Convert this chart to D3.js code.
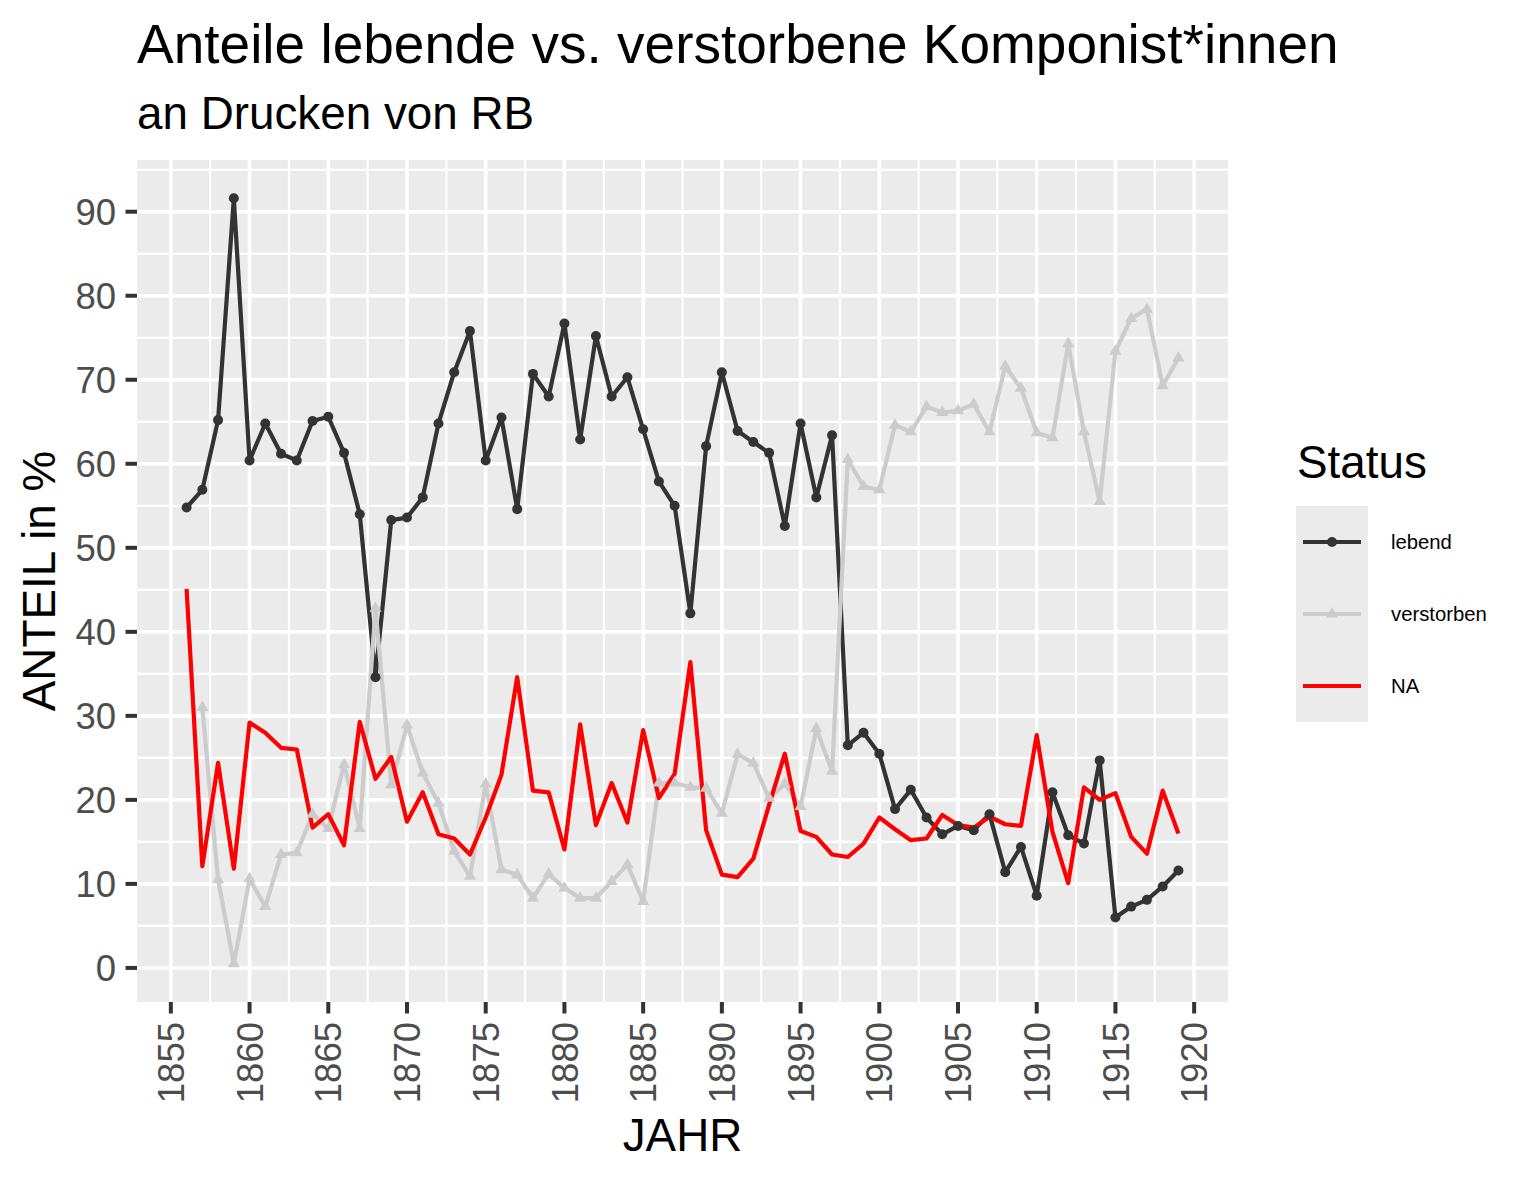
<!DOCTYPE html>
<html>
<head>
<meta charset="utf-8">
<script src="https://cdn.jsdelivr.net/npm/d3@7"></script>
<style>
  html, body { margin: 0; padding: 0; background: #ffffff; }
  svg { display: block; font-family: "Liberation Sans", Arial, Helvetica, sans-serif; }
</style>
</head>
<body>
<svg id="chart" width="1535" height="1181"></svg>
<script>
// ---- data ----
const years = [1856,1857,1858,1859,1860,1861,1862,1863,1864,1865,1866,1867,1868,1869,1870,1871,1872,1873,1874,1875,1876,1877,1878,1879,1880,1881,1882,1883,1884,1885,1886,1887,1888,1889,1890,1891,1892,1893,1894,1895,1896,1897,1898,1899,1900,1901,1902,1903,1904,1905,1906,1907,1908,1909,1910,1911,1912,1913,1914,1915,1916,1917,1918,1919];

const lebend = [54.8,56.9,65.2,91.6,60.4,64.8,61.2,60.4,65.1,65.6,61.3,54.0,34.6,53.3,53.6,56.0,64.8,70.9,75.8,60.4,65.5,54.6,70.7,68.0,76.7,62.9,75.2,68.0,70.3,64.1,57.9,55.0,42.2,62.1,70.9,63.9,62.6,61.3,52.6,64.8,56.0,63.4,26.5,28.0,25.5,18.9,21.2,17.9,15.9,16.9,16.4,18.3,11.4,14.4,8.6,20.9,15.8,14.8,24.7,6.0,7.3,8.1,9.7,11.6];

const verstorben = [null,31.0,10.5,0.5,10.6,7.3,13.5,13.7,18.3,16.6,24.2,16.6,42.8,21.8,28.9,23.2,19.6,13.9,10.9,21.9,11.7,11.1,8.3,11.2,9.5,8.3,8.3,10.3,12.3,7.9,22.0,22.0,21.5,21.4,18.4,25.4,24.4,20.2,21.9,19.2,28.5,23.4,60.5,57.3,56.9,64.6,63.8,66.8,66.1,66.3,67.1,63.8,71.6,69.0,63.7,63.1,74.3,63.8,55.5,73.4,77.3,78.4,69.3,72.6];

const naValues = [45.1,12.1,24.4,11.8,29.2,28.0,26.2,26.0,16.7,18.3,14.6,29.3,22.5,25.1,17.4,20.9,15.9,15.4,13.5,17.9,23.0,34.6,21.1,20.9,14.1,29.0,17.0,22.0,17.3,28.3,20.2,23.1,36.4,16.4,11.1,10.8,13.0,19.4,25.5,16.3,15.6,13.5,13.2,14.8,17.9,16.5,15.2,15.4,18.2,17.0,16.7,18.0,17.1,16.9,27.7,16.2,10.1,21.5,20.0,20.8,15.6,13.6,21.1,16.0];

const statusNames = ["lebend", "verstorben", "NA"];
const xTicks = [1855,1860,1865,1870,1875,1880,1885,1890,1895,1900,1905,1910,1915,1920];
const yTicks = [0,10,20,30,40,50,60,70,80,90];

const titleText = "Anteile lebende vs. verstorbene Komponist*innen";
const subtitleText = "an Drucken von RB";
const xTitle = "JAHR";
const yTitle = "ANTEIL in %";
const legendTitle = "Status";

// ---- layout ----
const P = { left: 137, right: 1228, top: 160, bottom: 1002 };
const colors = { lebend: "#333333", verstorben: "#cccccc", NA: "#ff0000" };

const svg = d3.select("#chart");
svg.append("rect").attr("width", 1535).attr("height", 1181).attr("fill", "#ffffff");

// scales with ggplot-like 5% expansion
const xExt = d3.extent(years);
const xPad = (xExt[1] - xExt[0]) * 0.05;
const x = d3.scaleLinear().domain([xExt[0] - xPad, xExt[1] + xPad]).range([P.left, P.right]);

const allVals = lebend.concat(verstorben, naValues).filter(v => v != null);
const yExt = d3.extent(allVals);
const yPad = (yExt[1] - yExt[0]) * 0.05;
const y = d3.scaleLinear().domain([yExt[0] - yPad, yExt[1] + yPad]).range([P.bottom, P.top]);

// panel
svg.append("rect")
  .attr("x", P.left).attr("y", P.top)
  .attr("width", P.right - P.left).attr("height", P.bottom - P.top)
  .attr("fill", "#ebebeb");

const grid = svg.append("g");
// minor grid
const xMinor = d3.range(xTicks.length - 1).map(i => (xTicks[i] + xTicks[i + 1]) / 2)
  .filter(v => v >= x.domain()[0] && v <= x.domain()[1]);
const yMinorAll = yTicks.map(v => v + 5).concat([yTicks[0] - 5]);
const yMinor = yMinorAll.filter(v => v >= y.domain()[0] && v <= y.domain()[1]);

grid.selectAll(".xminor").data(xMinor).enter().append("line")
  .attr("x1", d => x(d)).attr("x2", d => x(d))
  .attr("y1", P.top).attr("y2", P.bottom)
  .attr("stroke", "#ffffff").attr("stroke-width", 2.1);
grid.selectAll(".yminor").data(yMinor).enter().append("line")
  .attr("y1", d => y(d)).attr("y2", d => y(d))
  .attr("x1", P.left).attr("x2", P.right)
  .attr("stroke", "#ffffff").attr("stroke-width", 2.1);
grid.selectAll(".xmajor").data(xTicks).enter().append("line")
  .attr("x1", d => x(d)).attr("x2", d => x(d))
  .attr("y1", P.top).attr("y2", P.bottom)
  .attr("stroke", "#ffffff").attr("stroke-width", 3.6);
grid.selectAll(".ymajor").data(yTicks).enter().append("line")
  .attr("y1", d => y(d)).attr("y2", d => y(d))
  .attr("x1", P.left).attr("x2", P.right)
  .attr("stroke", "#ffffff").attr("stroke-width", 3.6);

// series
const series = [
  { name: "lebend", values: lebend },
  { name: "verstorben", values: verstorben },
  { name: "NA", values: naValues }
];
const line = d3.line()
  .defined(d => d.v != null)
  .x(d => x(d.year)).y(d => y(d.v));

const lineG = svg.append("g");
series.forEach(s => {
  const pts = years.map((yr, i) => ({ year: yr, v: s.values[i] }));
  lineG.append("path")
    .datum(pts)
    .attr("d", line)
    .attr("fill", "none")
    .attr("stroke", colors[s.name])
    .attr("stroke-width", 4.2)
    .attr("stroke-linejoin", "round")
    .attr("stroke-linecap", "butt");
});

const triangle = d3.symbol().type(d3.symbolTriangle).size(64);
const pointG = svg.append("g");
series.forEach(s => {
  const pts = years.map((yr, i) => ({ year: yr, v: s.values[i] })).filter(d => d.v != null);
  if (s.name === "lebend") {
    pointG.selectAll(null).data(pts).enter().append("circle")
      .attr("cx", d => x(d.year)).attr("cy", d => y(d.v))
      .attr("r", 5).attr("fill", colors.lebend);
  } else if (s.name === "verstorben") {
    pointG.selectAll(null).data(pts).enter().append("path")
      .attr("d", triangle)
      .attr("transform", d => `translate(${x(d.year)},${y(d.v)})`)
      .attr("fill", colors.verstorben);
  }
});

// axes
const axG = svg.append("g");
// y ticks
axG.selectAll(".yt").data(yTicks).enter().append("line")
  .attr("x1", P.left - 11.5).attr("x2", P.left)
  .attr("y1", d => y(d)).attr("y2", d => y(d))
  .attr("stroke", "#333333").attr("stroke-width", 4);
axG.selectAll(".yl").data(yTicks).enter().append("text")
  .attr("x", P.left - 21).attr("y", d => y(d))
  .attr("dy", "0.36em")
  .attr("text-anchor", "end")
  .attr("font-size", 36.5).attr("fill", "#4d4d4d")
  .text(d => d);
// x ticks
axG.selectAll(".xt").data(xTicks).enter().append("line")
  .attr("x1", d => x(d)).attr("x2", d => x(d))
  .attr("y1", P.bottom).attr("y2", P.bottom + 11.5)
  .attr("stroke", "#333333").attr("stroke-width", 4);
axG.selectAll(".xl").data(xTicks).enter().append("text")
  .attr("transform", d => `translate(${x(d)},${P.bottom + 20}) rotate(-90)`)
  .attr("dy", "0.36em")
  .attr("text-anchor", "end")
  .attr("font-size", 36.5).attr("fill", "#4d4d4d")
  .text(d => d);

// axis titles
svg.append("text")
  .attr("x", (P.left + P.right) / 2).attr("y", 1151)
  .attr("text-anchor", "middle")
  .attr("font-size", 45.8).attr("fill", "#000000")
  .text(xTitle);
svg.append("text")
  .attr("transform", `translate(55,${(P.top + P.bottom) / 2}) rotate(-90)`)
  .attr("text-anchor", "middle")
  .attr("font-size", 45.8).attr("fill", "#000000")
  .text(yTitle);

// titles
svg.append("text")
  .attr("x", P.left).attr("y", 63)
  .attr("font-size", 55).attr("fill", "#000000")
  .text(titleText);
svg.append("text")
  .attr("x", P.left).attr("y", 129)
  .attr("font-size", 45.8).attr("fill", "#000000")
  .text(subtitleText);

// legend
const L = { x: 1296, y: 506, keyW: 72, keyH: 72 };
const leg = svg.append("g");
leg.append("text")
  .attr("x", L.x + 1).attr("y", 478)
  .attr("font-size", 45.8).attr("fill", "#000000")
  .text(legendTitle);
leg.append("rect")
  .attr("x", L.x).attr("y", L.y)
  .attr("width", L.keyW).attr("height", L.keyH * statusNames.length)
  .attr("fill", "#ebebeb");
statusNames.forEach((name, i) => {
  const cy = L.y + L.keyH * i + L.keyH / 2;
  leg.append("line")
    .attr("x1", L.x + 7).attr("x2", L.x + L.keyW - 7)
    .attr("y1", cy).attr("y2", cy)
    .attr("stroke", colors[name]).attr("stroke-width", 4.2);
  if (name === "lebend") {
    leg.append("circle").attr("cx", L.x + L.keyW / 2).attr("cy", cy).attr("r", 5).attr("fill", colors.lebend);
  } else if (name === "verstorben") {
    leg.append("path").attr("d", triangle)
      .attr("transform", `translate(${L.x + L.keyW / 2},${cy})`)
      .attr("fill", colors.verstorben);
  }
  leg.append("text")
    .attr("x", 1391).attr("y", cy)
    .attr("dy", "0.36em")
    .attr("font-size", 20.3).attr("fill", "#000000")
    .text(name);
});
</script>
</body>
</html>
